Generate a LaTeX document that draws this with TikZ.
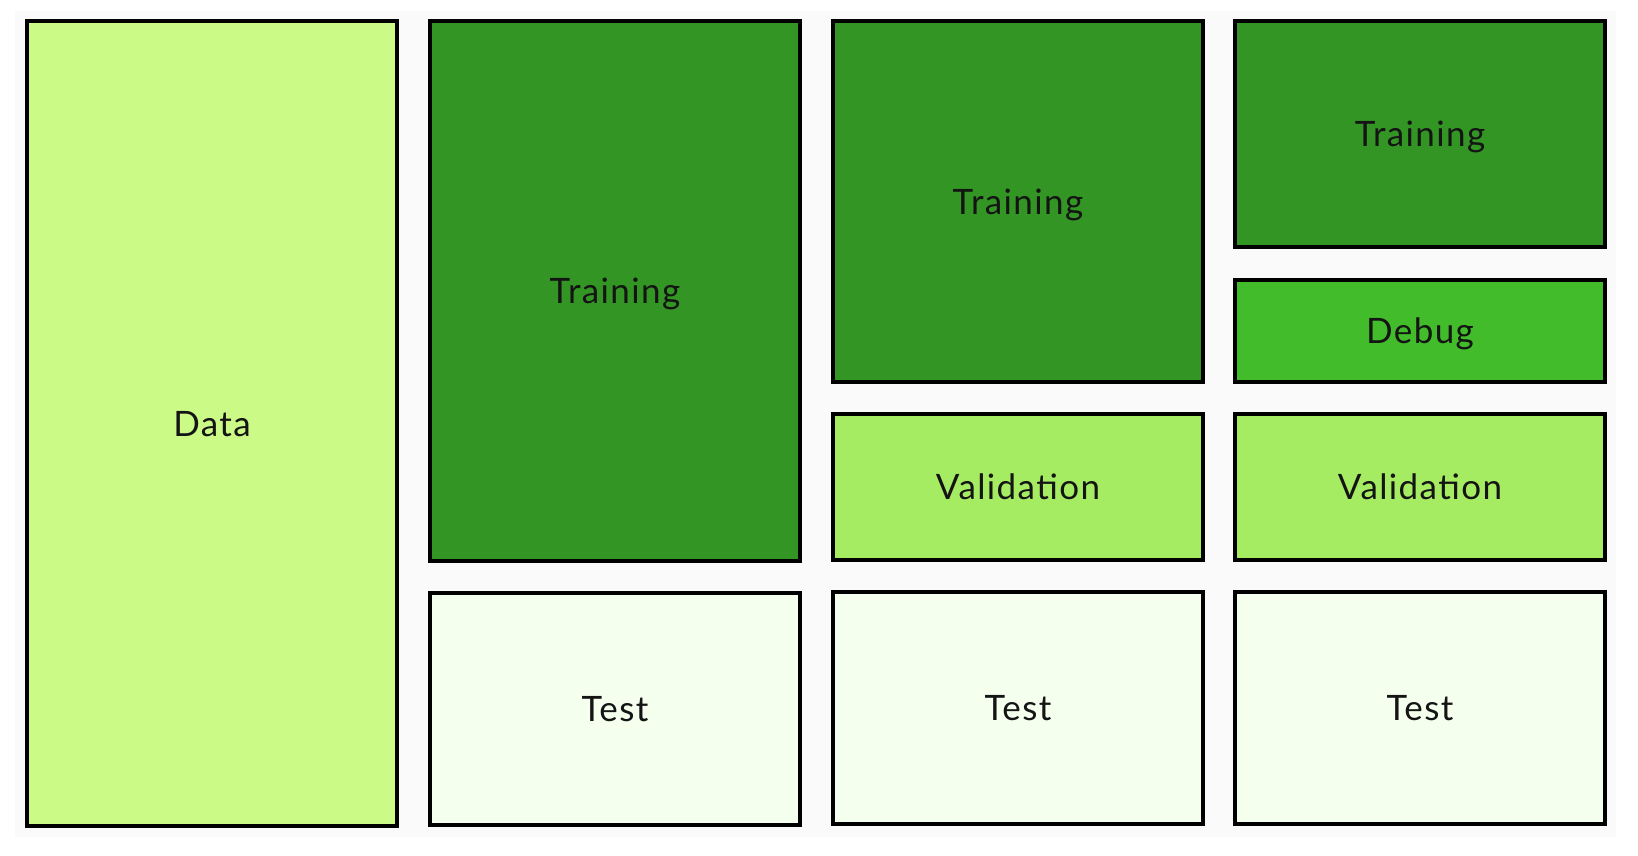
\documentclass[tikz,border=0pt]{standalone}
\usepackage{fontspec}
\setmainfont[LetterSpace=4]{Lato}
\definecolor{pagebg}{HTML}{FAFAFA}
\definecolor{datafill}{HTML}{CBFA87}
\definecolor{trainfill}{HTML}{339624}
\definecolor{debugfill}{HTML}{42BC2A}
\definecolor{valfill}{HTML}{A5EC63}
\definecolor{testfill}{HTML}{F5FFEE}
\begin{document}
\begin{tikzpicture}[x=1pt,y=-1pt,
  block/.style={draw=black, line width=4pt, minimum width=370pt, inner sep=0pt,
    text height=25.5pt, text depth=0pt,
    font=\fontsize{35}{42}\selectfont, text=black!92},
  datablock/.style={block, fill=datafill},
  trainblock/.style={block, fill=trainfill},
  debugblock/.style={block, fill=debugfill},
  valblock/.style={block, fill=valfill},
  testblock/.style={block, fill=testfill}]
  % canvas and light grey panel
  \fill[white] (0,0) rectangle (1638,856);
  \useasboundingbox (0,0) rectangle (1638,856);
  \fill[pagebg] (15,11) rectangle (1616,837);

  % column 1: whole data set
  \node[datablock, minimum height=805pt] (data) at (212,423.5) {Data};

  % column 2: training / test
  \node[trainblock, minimum height=540pt] (train2) at (615,291) {Training};
  \node[testblock, minimum height=232pt] (test2) at (615,709) {Test};

  % column 3: training / validation / test
  \node[trainblock, minimum height=361pt] (train3) at (1018,201.5) {Training};
  \node[valblock, minimum height=146pt] (val3) at (1018,487) {Validation};
  \node[testblock, minimum height=232pt] (test3) at (1018,708) {Test};

  % column 4: training / debug / validation / test
  \node[trainblock, minimum height=226pt] (train4) at (1420,134) {Training};
  \node[debugblock, minimum height=102pt] (debug4) at (1420,331) {Debug};
  \node[valblock, minimum height=146pt] (val4) at (1420,487) {Validation};
  \node[testblock, minimum height=232pt] (test4) at (1420,708) {Test};
\end{tikzpicture}
\end{document}
